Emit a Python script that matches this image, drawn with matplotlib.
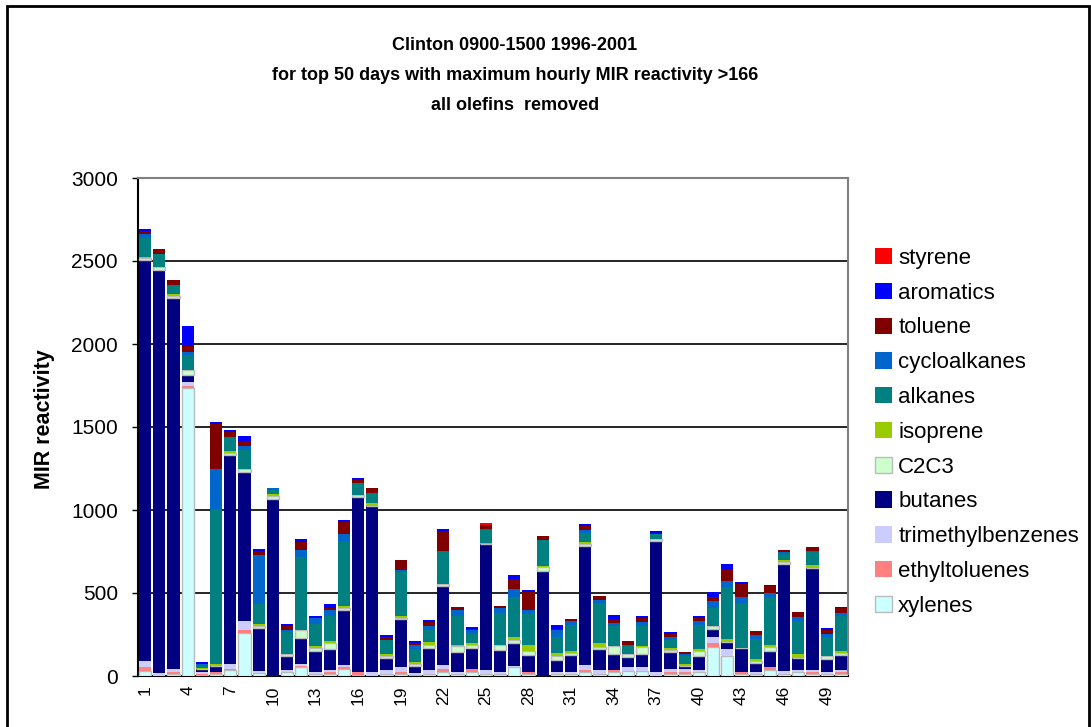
import numpy as np
import matplotlib
matplotlib.use("Agg")
import matplotlib.pyplot as plt
from matplotlib.patches import Rectangle, Patch

plt.rcParams['font.family'] = ['Liberation Sans', 'DejaVu Sans']

days = np.arange(1, 51)

# stack order, bottom to top
xylenes = [30, 0, 14, 1735, 6, 14, 34, 261, 20, 0, 22, 54, 12, 12, 44, 8, 0, 12, 12, 8,
           12, 26, 14, 26, 12, 12, 56, 12, 0, 12, 12, 26, 12, 26, 32, 32, 0, 12, 12, 26,
           177, 122, 12, 12, 36, 12, 26, 12, 12, 12]
ethyltoluenes = [24, 0, 12, 10, 8, 12, 10, 14, 0, 0, 0, 8, 0, 14, 12, 14, 0, 0, 14, 0,
                 0, 18, 0, 18, 0, 0, 0, 14, 0, 0, 0, 12, 0, 12, 0, 0, 0, 14, 14, 0,
                 24, 0, 14, 0, 20, 0, 0, 14, 0, 14]
trimethylbenzenes = [36, 20, 14, 24, 12, 0, 30, 56, 10, 0, 16, 10, 14, 12, 10, 0, 26, 26, 30, 12,
                     26, 24, 12, 0, 26, 14, 6, 0, 0, 14, 14, 30, 26, 0, 24, 24, 26, 18, 18, 12,
                     36, 42, 0, 14, 0, 20, 12, 12, 14, 12]
butanes = [2414, 2426, 2235, 46, 14, 34, 1257, 898, 261, 1068, 80, 155, 127, 125, 333, 1058, 1000, 72, 285, 42,
           133, 476, 117, 127, 757, 133, 139, 102, 631, 72, 102, 713, 127, 96, 60, 78, 789, 102, 18, 84,
           48, 42, 145, 54, 96, 645, 72, 614, 78, 90]
c2c3 = [16, 16, 16, 26, 0, 0, 12, 16, 10, 16, 14, 52, 18, 38, 10, 10, 0, 10, 8, 10,
        18, 12, 36, 18, 0, 30, 18, 24, 24, 24, 12, 16, 12, 48, 18, 42, 12, 12, 0, 30,
        18, 0, 0, 12, 24, 12, 0, 0, 18, 12]
isoprene = [5, 0, 12, 0, 10, 14, 12, 0, 10, 10, 0, 0, 12, 8, 14, 0, 14, 12, 14, 14,
            18, 0, 10, 12, 8, 0, 18, 36, 8, 18, 12, 12, 24, 0, 0, 6, 0, 12, 12, 12,
            0, 18, 0, 12, 12, 12, 24, 18, 0, 12]
alkanes = [114, 78, 52, 92, 8, 934, 84, 116, 120, 26, 134, 440, 133, 155, 392, 74, 64, 86, 265, 78,
           72, 199, 175, 52, 76, 193, 241, 187, 157, 96, 157, 54, 241, 120, 48, 120, 28, 48, 48, 145,
           108, 313, 271, 120, 283, 36, 199, 78, 114, 211]
cycloalkanes = [24, 0, 0, 16, 12, 241, 0, 24, 297, 12, 12, 42, 34, 36, 42, 0, 0, 0, 12, 24,
                24, 0, 36, 24, 8, 28, 48, 24, 0, 40, 24, 18, 18, 18, 6, 24, 0, 18, 12, 24,
                42, 36, 36, 24, 30, 12, 24, 6, 18, 18]
toluene = [16, 32, 30, 36, 0, 267, 30, 30, 28, 0, 22, 44, 0, 12, 70, 16, 30, 18, 60, 12,
           24, 120, 18, 6, 24, 14, 60, 108, 24, 8, 12, 24, 24, 24, 24, 24, 8, 18, 12, 18,
           24, 72, 78, 24, 42, 12, 30, 24, 24, 28]
aromatics = [12, 0, 0, 126, 16, 14, 12, 30, 8, 0, 14, 22, 14, 24, 14, 14, 0, 12, 0, 12,
             12, 12, 0, 14, 0, 0, 24, 12, 0, 24, 0, 12, 0, 24, 0, 12, 12, 12, 0, 12,
             30, 30, 12, 0, 6, 0, 0, 0, 12, 8]
styrene = [0] * 24 + [12] + [0] * 25

series = [
    ("xylenes", xylenes, "#CCFFFF"),
    ("ethyltoluenes", ethyltoluenes, "#FF8080"),
    ("trimethylbenzenes", trimethylbenzenes, "#CCCCFF"),
    ("butanes", butanes, "#000080"),
    ("C2C3", c2c3, "#CCFFCC"),
    ("isoprene", isoprene, "#99CC00"),
    ("alkanes", alkanes, "#008080"),
    ("cycloalkanes", cycloalkanes, "#0066CC"),
    ("toluene", toluene, "#800000"),
    ("aromatics", aromatics, "#0000FF"),
    ("styrene", styrene, "#FF0000"),
]
light = {"xylenes", "C2C3"}

W, H = 1091, 727
fig = plt.figure(figsize=(W / 100, H / 100), dpi=100)
ax = fig.add_axes([138 / W, 1 - 676 / H, (848 - 138) / W, (676 - 178) / H])

x = np.arange(len(days))
bottom = np.zeros(len(days))
handles = []
for name, vals, color in series:
    vals = np.array(vals, dtype=float)
    if name in light:
        ax.bar(x, vals, 0.86, bottom=bottom, color=color, edgecolor="#BBBBBB", linewidth=1, zorder=3)
        h = Patch(facecolor=color, edgecolor="#BBBBBB", linewidth=1)
    else:
        ax.bar(x, vals, 0.86, bottom=bottom, color=color, linewidth=0, zorder=3)
        h = Patch(facecolor=color, linewidth=0)
    handles.append((h, name))
    bottom += vals

ax.set_xlim(-0.5, len(days) - 0.5)
ax.set_ylim(0, 3000)
ax.set_yticks(np.arange(0, 3001, 500))
ax.yaxis.grid(True, color="black", linewidth=1.2, zorder=1)
ax.set_axisbelow(True)
ax.tick_params(axis="y", direction="out", length=4, width=1, pad=10.5, labelsize=15)
ax.set_xticks(x[::3])
ax.set_xticklabels([str(d) for d in days[::3]], rotation=90, fontsize=12.5)
ax.tick_params(axis="x", length=0, pad=7)

for s in ("top", "right"):
    ax.spines[s].set_color("#808080")
    ax.spines[s].set_linewidth(1.5)
for s in ("left", "bottom"):
    ax.spines[s].set_color("black")
    ax.spines[s].set_linewidth(1.5)

ax.set_ylabel("MIR reactivity", fontsize=15.5, fontweight="bold")
ax.yaxis.set_label_coords((55 - 138) / 710, 0.515)

handles = handles[::-1]
ax.legend([h for h, _ in handles], [n for _, n in handles],
          loc="upper left", bbox_to_anchor=(866 / W, 1 - 239 / H), bbox_transform=fig.transFigure,
          frameon=False, fontsize=16, handlelength=0.75, handleheight=0.75,
          handletextpad=0.3, labelspacing=0.62, borderaxespad=0)

# three title lines, placed one by one
title_lines = ["Clinton 0900-1500 1996-2001",
               "for top 50 days with maximum hourly MIR reactivity >166",
               "all olefins  removed"]
for line, ypx in zip(title_lines, [45, 75, 106]):
    fig.text(515 / W, 1 - ypx / H, line, ha="center", va="center",
             fontsize=13, fontweight="bold")

# outer chart frame
fig.patches.append(Rectangle((7 / W, -0.05), (1089 - 7) / W, 1.05 - 6 / H,
                             transform=fig.transFigure, fill=False,
                             edgecolor="black", linewidth=2))

fig.savefig("out.png", dpi=100)
